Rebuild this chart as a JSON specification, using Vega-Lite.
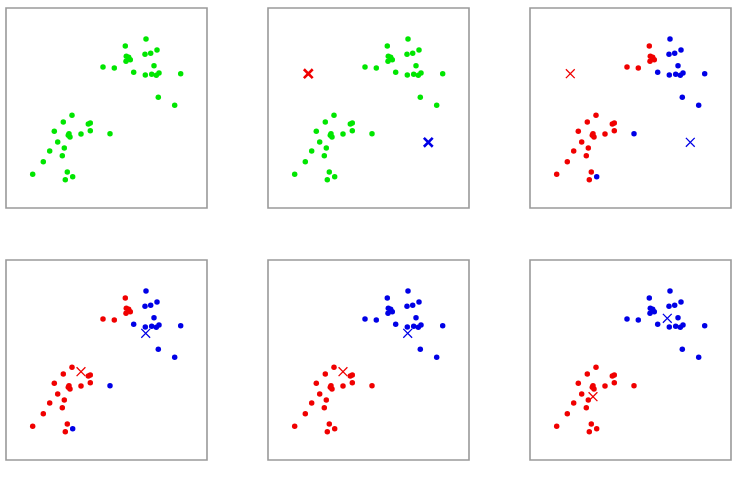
{
  "$schema": "https://vega.github.io/schema/vega-lite/v6.json",
  "padding": {"left": 5, "top": 7, "right": 0, "bottom": 0},
  "background": "white",
  "config": {"view": {"stroke": "#9a9a9a", "strokeWidth": 1.6}},
  "data": {"values": [
    {"kind":"o","x":140,"y":31,"p1":"g","p2":"g","p3":"b","p4":"b","p5":"b","p6":"b"},
    {"kind":"o","x":119.3,"y":38,"p1":"g","p2":"g","p3":"r","p4":"r","p5":"b","p6":"b"},
    {"kind":"o","x":139,"y":46.3,"p1":"g","p2":"g","p3":"b","p4":"b","p5":"b","p6":"b"},
    {"kind":"o","x":144.7,"y":45.3,"p1":"g","p2":"g","p3":"b","p4":"b","p5":"b","p6":"b"},
    {"kind":"o","x":151,"y":42,"p1":"g","p2":"g","p3":"b","p4":"b","p5":"b","p6":"b"},
    {"kind":"o","x":120.3,"y":48.3,"p1":"g","p2":"g","p3":"r","p4":"r","p5":"b","p6":"b"},
    {"kind":"o","x":122.7,"y":49.3,"p1":"g","p2":"g","p3":"r","p4":"r","p5":"b","p6":"b"},
    {"kind":"o","x":120,"y":53.3,"p1":"g","p2":"g","p3":"r","p4":"r","p5":"b","p6":"b"},
    {"kind":"o","x":124.3,"y":51.7,"p1":"g","p2":"g","p3":"r","p4":"r","p5":"b","p6":"b"},
    {"kind":"o","x":148,"y":57.7,"p1":"g","p2":"g","p3":"b","p4":"b","p5":"b","p6":"b"},
    {"kind":"o","x":97,"y":59,"p1":"g","p2":"g","p3":"r","p4":"r","p5":"b","p6":"b"},
    {"kind":"o","x":108.3,"y":60,"p1":"g","p2":"g","p3":"r","p4":"r","p5":"b","p6":"b"},
    {"kind":"o","x":127.7,"y":64.3,"p1":"g","p2":"g","p3":"b","p4":"b","p5":"b","p6":"b"},
    {"kind":"o","x":139.3,"y":67,"p1":"g","p2":"g","p3":"b","p4":"b","p5":"b","p6":"b"},
    {"kind":"o","x":145.7,"y":66.3,"p1":"g","p2":"g","p3":"b","p4":"b","p5":"b","p6":"b"},
    {"kind":"o","x":150.3,"y":67.3,"p1":"g","p2":"g","p3":"b","p4":"b","p5":"b","p6":"b"},
    {"kind":"o","x":153,"y":65,"p1":"g","p2":"g","p3":"b","p4":"b","p5":"b","p6":"b"},
    {"kind":"o","x":174.7,"y":65.7,"p1":"g","p2":"g","p3":"b","p4":"b","p5":"b","p6":"b"},
    {"kind":"o","x":152.3,"y":89.3,"p1":"g","p2":"g","p3":"b","p4":"b","p5":"b","p6":"b"},
    {"kind":"o","x":168.7,"y":97.3,"p1":"g","p2":"g","p3":"b","p4":"b","p5":"b","p6":"b"},
    {"kind":"o","x":66,"y":107.3,"p1":"g","p2":"g","p3":"r","p4":"r","p5":"r","p6":"r"},
    {"kind":"o","x":57.3,"y":114,"p1":"g","p2":"g","p3":"r","p4":"r","p5":"r","p6":"r"},
    {"kind":"o","x":82.3,"y":116,"p1":"g","p2":"g","p3":"r","p4":"r","p5":"r","p6":"r"},
    {"kind":"o","x":84.3,"y":115,"p1":"g","p2":"g","p3":"r","p4":"r","p5":"r","p6":"r"},
    {"kind":"o","x":48.3,"y":123.3,"p1":"g","p2":"g","p3":"r","p4":"r","p5":"r","p6":"r"},
    {"kind":"o","x":63,"y":125.7,"p1":"g","p2":"g","p3":"r","p4":"r","p5":"r","p6":"r"},
    {"kind":"o","x":64,"y":129,"p1":"g","p2":"g","p3":"r","p4":"r","p5":"r","p6":"r"},
    {"kind":"o","x":62.3,"y":127.3,"p1":"g","p2":"g","p3":"r","p4":"r","p5":"r","p6":"r"},
    {"kind":"o","x":75,"y":126,"p1":"g","p2":"g","p3":"r","p4":"r","p5":"r","p6":"r"},
    {"kind":"o","x":84.3,"y":122.7,"p1":"g","p2":"g","p3":"r","p4":"r","p5":"r","p6":"r"},
    {"kind":"o","x":104,"y":125.7,"p1":"g","p2":"g","p3":"b","p4":"b","p5":"r","p6":"r"},
    {"kind":"o","x":51.7,"y":134,"p1":"g","p2":"g","p3":"r","p4":"r","p5":"r","p6":"r"},
    {"kind":"o","x":58.3,"y":140,"p1":"g","p2":"g","p3":"r","p4":"r","p5":"r","p6":"r"},
    {"kind":"o","x":43.7,"y":143,"p1":"g","p2":"g","p3":"r","p4":"r","p5":"r","p6":"r"},
    {"kind":"o","x":56.3,"y":147.7,"p1":"g","p2":"g","p3":"r","p4":"r","p5":"r","p6":"r"},
    {"kind":"o","x":37.3,"y":153.7,"p1":"g","p2":"g","p3":"r","p4":"r","p5":"r","p6":"r"},
    {"kind":"o","x":26.7,"y":166.3,"p1":"g","p2":"g","p3":"r","p4":"r","p5":"r","p6":"r"},
    {"kind":"o","x":61.3,"y":164,"p1":"g","p2":"g","p3":"r","p4":"r","p5":"r","p6":"r"},
    {"kind":"o","x":66.7,"y":168.7,"p1":"g","p2":"g","p3":"b","p4":"b","p5":"r","p6":"r"},
    {"kind":"o","x":59.3,"y":171.7,"p1":"g","p2":"g","p3":"r","p4":"r","p5":"r","p6":"r"},
    {"kind":"x","x":40.3,"y":65.7,"p2":"r","p3":"r"},
    {"kind":"x","x":160.3,"y":134.3,"p2":"b","p3":"b"},
    {"kind":"x","x":75,"y":111.7,"p4":"r","p5":"r"},
    {"kind":"x","x":139.7,"y":73.3,"p4":"b","p5":"b"},
    {"kind":"x","x":63,"y":136.7,"p6":"r"},
    {"kind":"x","x":137.3,"y":58.3,"p6":"b"}
  ]},
  "transform": [
    {"fold": ["p1","p2","p3","p4","p5","p6"], "as": ["panel","c"]},
    {"filter": "isValid(datum.c)"}
  ],
  "columns": 3,
  "spacing": {"row": 50, "column": 59},
  "resolve": {"scale": {"color": "shared"}},
  "concat": [
    {"transform": [{"filter": "datum.panel == 'p1'"}], "width": 201, "height": 200,
     "encoding": {
      "x": {"field": "x", "type": "quantitative", "scale": {"domain": [0, 201], "nice": false, "zero": false}, "axis": null},
      "y": {"field": "y", "type": "quantitative", "scale": {"domain": [0, 200], "nice": false, "zero": false, "reverse": true}, "axis": null},
      "color": {"field": "c", "type": "nominal", "scale": {"domain": ["g","r","b"], "range": ["#00e600","#f00000","#0000e6"]}, "legend": null}},
     "layer": [
      {"transform": [{"filter": "datum.kind == 'o'"}], "mark": {"type": "circle", "size": 30, "opacity": 1}},
      {"transform": [{"filter": "datum.kind == 'x'"}], "mark": {"type": "point", "shape": "M-1,-1L1,1M-1,1L1,-1", "filled": false, "size": 78, "opacity": 1, "strokeWidth": 2.6}}
     ]},
    {"transform": [{"filter": "datum.panel == 'p2'"}], "width": 201, "height": 200,
     "encoding": {
      "x": {"field": "x", "type": "quantitative", "scale": {"domain": [0, 201], "nice": false, "zero": false}, "axis": null},
      "y": {"field": "y", "type": "quantitative", "scale": {"domain": [0, 200], "nice": false, "zero": false, "reverse": true}, "axis": null},
      "color": {"field": "c", "type": "nominal", "scale": {"domain": ["g","r","b"], "range": ["#00e600","#f00000","#0000e6"]}, "legend": null}},
     "layer": [
      {"transform": [{"filter": "datum.kind == 'o'"}], "mark": {"type": "circle", "size": 30, "opacity": 1}},
      {"transform": [{"filter": "datum.kind == 'x'"}], "mark": {"type": "point", "shape": "M-1,-1L1,1M-1,1L1,-1", "filled": false, "size": 78, "opacity": 1, "strokeWidth": 2.6}}
     ]},
    {"transform": [{"filter": "datum.panel == 'p3'"}], "width": 201, "height": 200,
     "encoding": {
      "x": {"field": "x", "type": "quantitative", "scale": {"domain": [0, 201], "nice": false, "zero": false}, "axis": null},
      "y": {"field": "y", "type": "quantitative", "scale": {"domain": [0, 200], "nice": false, "zero": false, "reverse": true}, "axis": null},
      "color": {"field": "c", "type": "nominal", "scale": {"domain": ["g","r","b"], "range": ["#00e600","#f00000","#0000e6"]}, "legend": null}},
     "layer": [
      {"transform": [{"filter": "datum.kind == 'o'"}], "mark": {"type": "circle", "size": 30, "opacity": 1}},
      {"transform": [{"filter": "datum.kind == 'x'"}], "mark": {"type": "point", "shape": "M-1,-1L1,1M-1,1L1,-1", "filled": false, "size": 78, "opacity": 1, "strokeWidth": 1.3}}
     ]},
    {"transform": [{"filter": "datum.panel == 'p4'"}], "width": 201, "height": 200,
     "encoding": {
      "x": {"field": "x", "type": "quantitative", "scale": {"domain": [0, 201], "nice": false, "zero": false}, "axis": null},
      "y": {"field": "y", "type": "quantitative", "scale": {"domain": [0, 200], "nice": false, "zero": false, "reverse": true}, "axis": null},
      "color": {"field": "c", "type": "nominal", "scale": {"domain": ["g","r","b"], "range": ["#00e600","#f00000","#0000e6"]}, "legend": null}},
     "layer": [
      {"transform": [{"filter": "datum.kind == 'o'"}], "mark": {"type": "circle", "size": 30, "opacity": 1}},
      {"transform": [{"filter": "datum.kind == 'x'"}], "mark": {"type": "point", "shape": "M-1,-1L1,1M-1,1L1,-1", "filled": false, "size": 78, "opacity": 1, "strokeWidth": 1.3}}
     ]},
    {"transform": [{"filter": "datum.panel == 'p5'"}], "width": 201, "height": 200,
     "encoding": {
      "x": {"field": "x", "type": "quantitative", "scale": {"domain": [0, 201], "nice": false, "zero": false}, "axis": null},
      "y": {"field": "y", "type": "quantitative", "scale": {"domain": [0, 200], "nice": false, "zero": false, "reverse": true}, "axis": null},
      "color": {"field": "c", "type": "nominal", "scale": {"domain": ["g","r","b"], "range": ["#00e600","#f00000","#0000e6"]}, "legend": null}},
     "layer": [
      {"transform": [{"filter": "datum.kind == 'o'"}], "mark": {"type": "circle", "size": 30, "opacity": 1}},
      {"transform": [{"filter": "datum.kind == 'x'"}], "mark": {"type": "point", "shape": "M-1,-1L1,1M-1,1L1,-1", "filled": false, "size": 78, "opacity": 1, "strokeWidth": 1.3}}
     ]},
    {"transform": [{"filter": "datum.panel == 'p6'"}], "width": 201, "height": 200,
     "encoding": {
      "x": {"field": "x", "type": "quantitative", "scale": {"domain": [0, 201], "nice": false, "zero": false}, "axis": null},
      "y": {"field": "y", "type": "quantitative", "scale": {"domain": [0, 200], "nice": false, "zero": false, "reverse": true}, "axis": null},
      "color": {"field": "c", "type": "nominal", "scale": {"domain": ["g","r","b"], "range": ["#00e600","#f00000","#0000e6"]}, "legend": null}},
     "layer": [
      {"transform": [{"filter": "datum.kind == 'o'"}], "mark": {"type": "circle", "size": 30, "opacity": 1}},
      {"transform": [{"filter": "datum.kind == 'x'"}], "mark": {"type": "point", "shape": "M-1,-1L1,1M-1,1L1,-1", "filled": false, "size": 78, "opacity": 1, "strokeWidth": 1.3}}
     ]}
  ]
}
